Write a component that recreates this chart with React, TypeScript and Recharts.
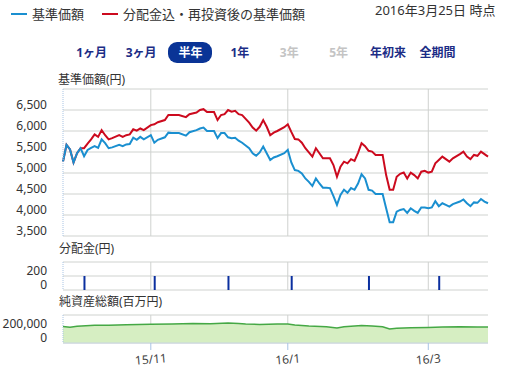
import { Area, AreaChart, Bar, BarChart, CartesianGrid, Line, LineChart, XAxis, YAxis } from 'recharts';

// trading-day index (0 = 2015/9/25 .. 121 = 2016/3/25)
const dayIndex = [
  0, 1, 2, 3, 4, 5, 6, 7, 8, 9, 10, 11, 12, 13, 14, 16, 17, 18, 19, 20, 21, 22, 23, 25, 26, 27, 29, 30, 31, 33,
  35, 36, 38, 39, 40, 41, 43, 44, 45, 46, 47, 48, 49, 50, 51, 53, 54, 55, 56, 57, 58, 59, 60, 61, 63, 64, 65, 66,
  67, 68, 69, 70, 71, 72, 73, 74, 75, 76, 77, 78, 79, 80, 81, 82, 83, 84, 85, 86, 87, 88, 89, 90, 91, 92, 93, 94,
  95, 96, 97, 98, 99, 100, 101, 102, 103, 104, 105, 106, 107, 108, 109, 110, 111, 113, 114, 115, 116, 117, 118,
  119, 120, 121,
];
// 基準価額
const navValues = [
  5270, 5670, 5560, 5250, 5470, 5590, 5400, 5550, 5600, 5640, 5600, 5800, 5710, 5590, 5610, 5670, 5640, 5680, 5690,
  5840, 5790, 5860, 5800, 5900, 5720, 5790, 5850, 5960, 5950, 5950, 5890, 5970, 6020, 6060, 6080, 6000, 6000, 5830,
  5950, 5950, 5850, 5830, 5840, 5770, 5720, 5590, 5470, 5410, 5490, 5630, 5470, 5310, 5370, 5400, 5470, 5550, 5250,
  5070, 5050, 4990, 4870, 4790, 4690, 4870, 4750, 4650, 4650, 4640, 4450, 4240, 4480, 4600, 4530, 4640, 4600, 4750,
  4970, 4870, 4600, 4580, 4500, 4500, 4500, 4160, 3830, 3830, 4080, 4120, 4140, 4050, 4160, 4100, 4050, 4180, 4180,
  4160, 4180, 4330, 4210, 4280, 4240, 4200, 4260, 4320, 4370, 4280, 4210, 4300, 4290, 4380, 4320, 4280,
];
// 分配金込・再投資後の基準価額
const navReinvested = [
  5270, 5670, 5560, 5250, 5470, 5590, 5590, 5700, 5800, 5920, 5860, 6020, 5900, 5800, 5830, 5900, 5860, 5900, 5920,
  6040, 6010, 6060, 6020, 6140, 6160, 6210, 6260, 6380, 6380, 6380, 6330, 6400, 6440, 6500, 6520, 6450, 6450, 6260,
  6380, 6400, 6500, 6460, 6480, 6400, 6380, 6200, 6080, 6010, 6100, 6260, 6100, 5900, 5960, 6000, 6090, 6160, 5980,
  5810, 5800, 5720, 5590, 5490, 5390, 5590, 5470, 5350, 5350, 5350, 5190, 4910, 5150, 5270, 5230, 5330, 5290, 5480,
  5710, 5640, 5530, 5510, 5430, 5430, 5430, 4950, 4600, 4600, 4910, 4980, 5010, 4870, 5010, 4950, 4870, 5030, 5050,
  5010, 5030, 5230, 5310, 5390, 5330, 5270, 5350, 5450, 5510, 5390, 5330, 5430, 5410, 5510, 5450, 5390,
];

const distDays = [6, 26, 47, 65, 87, 107];
const distAmounts = [200, 200, 200, 200, 200, 200];

const assetDays = [0, 2, 4, 9, 13, 18, 25, 31, 37, 42, 47, 50, 52, 56, 61, 64, 66, 70, 75, 78, 80, 85, 88, 91, 93, 95, 99, 104, 108, 113, 118, 121];
const assetValues = [
  235000, 226000, 240000, 252000, 255000, 259000, 268000, 270000, 278000, 275000, 284000, 279000, 271000, 266000,
  271000, 271000, 257000, 243000, 233000, 214000, 233000, 251000, 243000, 233000, 200000, 209000, 219000, 223000,
  229000, 233000, 229000, 229000,
];

const dayDomain = [0, 121];
const monthTicks = [25, 64, 104];
const monthLabels = ['15/11', '16/1', '16/3'];
const priceTicks = [3500, 4000, 4500, 5000, 5500, 6000, 6500, 7000];
const distTicks = [0, 200, 400];
const assetTicks = [0, 200000, 400000];
const periodTabs = ['1ヶ月', '3ヶ月', '半年', '1年', '3年', '5年', '年初来', '全期間'];
const disabledTabs = ['3年', '5年'];
const activeTab = '半年';

const priceData = dayIndex.map((day, i) => ({ day, nav: navValues[i], reinvested: navReinvested[i] }));
const distData = distDays.map((day, i) => ({ day, amount: distAmounts[i] }));
const assetData = assetDays.map((day, i) => ({ day, assets: assetValues[i] }));

const FONT = "'Noto Sans', 'Noto Sans CJK JP', sans-serif";
const GRID = '#cfd2cf';
const AXIS_BLUE = '#a8c4e4';
const BLUE = '#1a8fd0';
const RED = '#cc0a1e';

// vertical grid only at the month ticks
const monthLines = ({ xAxis, offset }: any) => {
  const scale = xAxis?.scale;
  if (typeof scale === 'function') {
    const px = monthTicks.map((t) => scale(t));
    if (px.every((v) => Number.isFinite(v))) return px;
  }
  const [d0, d1] = dayDomain;
  return monthTicks.map((t) => offset.left + ((t - d0) / (d1 - d0)) * offset.width);
};

function makeYTick(hidden: number[]) {
  return ({ y, payload }: any) => {
    if (hidden.includes(payload.value)) return <g />;
    return (
      <text x={47} y={y - 6} textAnchor="end" dominantBaseline="central" fontSize={12} fill="#333" fontFamily={FONT}>
        {payload.value.toLocaleString('en-US')}
      </text>
    );
  };
}

function MonthTick({ x, y, payload }: any) {
  const label = monthLabels[monthTicks.indexOf(payload.value)];
  const ty = y + 7;
  return (
    <text x={x} y={ty} textAnchor="middle" dominantBaseline="central" fontSize={12} fill="#444" fontFamily={FONT}
      transform={`rotate(-5 ${x} ${ty})`}>
      {label}
    </text>
  );
}

const titleStyle = { position: 'absolute' as const, fontSize: 12, color: '#333', lineHeight: '14px' };

export default function App() {
  return (
    <div style={{ position: 'absolute', left: 0, top: 0, width: 528, height: 373, background: '#fff', fontFamily: FONT, overflow: 'hidden' }}>
      {/* legend */}
      <div style={{ position: 'absolute', left: 11, top: 13, width: 16, height: 2, background: BLUE }} />
      <div style={{ position: 'absolute', left: 32, top: 5, fontSize: 13, color: '#333', lineHeight: '18px' }}>基準価額</div>
      <div style={{ position: 'absolute', left: 102, top: 13, width: 16, height: 2, background: RED }} />
      <div style={{ position: 'absolute', left: 123, top: 5, fontSize: 13, color: '#333', lineHeight: '18px' }}>分配金込・再投資後の基準価額</div>
      <div style={{ position: 'absolute', left: 375, top: 1, fontSize: 13, color: '#333', lineHeight: '18px' }}>2016年3月25日 時点</div>

      {/* period tabs */}
      <div style={{ position: 'absolute', left: 67, top: 42, display: 'flex' }}>
        {periodTabs.map((t) => {
          const active = t === activeTab;
          const disabled = disabledTabs.includes(t);
          return (
            <div key={t} style={{ width: 49.4, height: 21, display: 'flex', justifyContent: 'center', alignItems: 'center' }}>
              <span style={{
                fontSize: 12, fontWeight: 700, lineHeight: '21px',
                color: active ? '#fff' : disabled ? '#c4c4c4' : '#1c2d86',
                background: active ? '#0a3496' : 'transparent',
                borderRadius: 9, padding: active ? '0 10px' : 0,
              }}>{t}</span>
            </div>
          );
        })}
      </div>

      <div style={{ ...titleStyle, left: 58, top: 73 }}>基準価額(円)</div>
      <div style={{ position: 'absolute', left: 0, top: 0 }}>
        <LineChart width={528} height={240} data={priceData} margin={{ top: 89, right: 40, bottom: 4, left: 0 }}>
          <CartesianGrid stroke={GRID} strokeWidth={1} verticalCoordinatesGenerator={monthLines} />
          <XAxis dataKey="day" type="number" domain={dayDomain} ticks={monthTicks} hide />
          <YAxis type="number" domain={[3500, 7000]} ticks={priceTicks} width={63} interval={0}
            axisLine={{ stroke: AXIS_BLUE, strokeDasharray: '1 1' }} tickLine={false} tick={makeYTick([7000])} />
          <Line dataKey="reinvested" stroke={RED} strokeWidth={2} dot={false} isAnimationActive={false} />
          <Line dataKey="nav" stroke={BLUE} strokeWidth={2} dot={false} isAnimationActive={false} />
        </LineChart>
      </div>

      <div style={{ ...titleStyle, left: 59, top: 242 }}>分配金(円)</div>
      <div style={{ position: 'absolute', left: 0, top: 250 }}>
        <BarChart width={528} height={44} data={distData} margin={{ top: 12, right: 40, bottom: 4, left: 0 }}>
          <CartesianGrid stroke={GRID} strokeWidth={1} verticalCoordinatesGenerator={monthLines} />
          <XAxis dataKey="day" type="number" domain={dayDomain} ticks={monthTicks} hide />
          <YAxis type="number" domain={[0, 400]} ticks={distTicks} width={63} interval={0}
            axisLine={{ stroke: AXIS_BLUE, strokeDasharray: '1 1' }} tickLine={false} tick={makeYTick([400])} />
          <Bar dataKey="amount" fill="#0b2f9f" barSize={2} isAnimationActive={false} />
        </BarChart>
      </div>

      <div style={{ ...titleStyle, left: 59, top: 295 }}>純資産総額(百万円)</div>
      <div style={{ position: 'absolute', left: 0, top: 300 }}>
        <AreaChart width={528} height={73} data={assetData} margin={{ top: 15, right: 40, bottom: 2, left: 0 }}>
          <CartesianGrid stroke={GRID} strokeWidth={1} verticalCoordinatesGenerator={monthLines} />
          <XAxis dataKey="day" type="number" domain={dayDomain} ticks={monthTicks} interval={0} height={28}
            axisLine={{ stroke: '#c9d5e3' }} tickLine={{ stroke: AXIS_BLUE }} tickSize={7} tick={<MonthTick />} />
          <YAxis type="number" domain={[0, 400000]} ticks={assetTicks} width={63} interval={0}
            axisLine={{ stroke: AXIS_BLUE, strokeDasharray: '1 1' }} tickLine={false} tick={makeYTick([400000])} />
          <Area type="linear" dataKey="assets" stroke="#45a845" strokeWidth={1.5} fill="#d6eec2" fillOpacity={1} isAnimationActive={false} />
        </AreaChart>
      </div>
    </div>
  );
}
